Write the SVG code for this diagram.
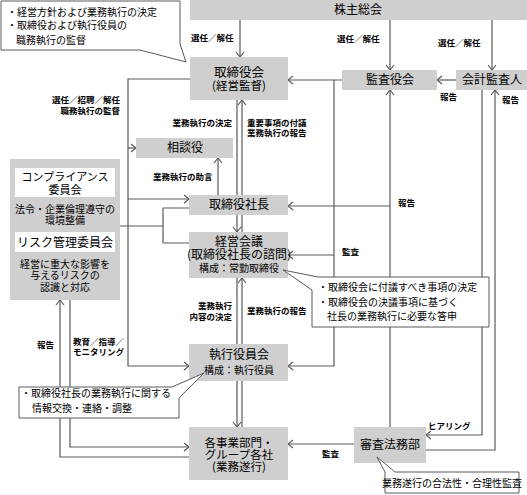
<svg xmlns="http://www.w3.org/2000/svg" width="527" height="495" viewBox="0 0 527 495">
<defs>
<style>
text{font-family:"Noto Sans CJK JP","Noto Sans CJK SC",sans-serif;fill:#000}
.box{fill:#cfcfcf}
.wb{fill:#fff}
.n{font-size:12px;text-anchor:middle}
.s{font-size:10px;text-anchor:middle}
.c{font-size:10px}
.l{font-size:8.5px;font-weight:bold}
.r{text-anchor:end}
.ln{fill:none;stroke:#5a5a5a;stroke-width:1.2}
.co{fill:#fff;stroke:#5a5a5a;stroke-width:1}
</style>
<marker id="a" markerUnits="userSpaceOnUse" markerWidth="10" markerHeight="10" refX="7" refY="5" orient="auto">
<path d="M2,1 L7,5 L2,9" fill="none" stroke="#5a5a5a" stroke-width="1.2"/>
</marker>
</defs>
<g id="connectors">
<path class="ln" d="M240,20 V57" marker-end="url(#a)"/>
<path class="ln" d="M390,20 V70" marker-end="url(#a)"/>
<path class="ln" d="M492,20 V70" marker-end="url(#a)"/>
<path class="ln" d="M456,80 H437" marker-end="url(#a)"/>
<path class="ln" d="M342,80 H288" marker-end="url(#a)"/>
<path class="ln" d="M334,80 V366 H288" marker-end="url(#a)"/>
<path class="ln" d="M334,255 H288" marker-end="url(#a)"/>
<path class="ln" d="M390,427 V90" marker-end="url(#a)"/>
<path class="ln" d="M390,206 H288" marker-end="url(#a)"/>
<path class="ln" d="M482,90 V435 H426" marker-end="url(#a)"/>
<path class="ln" d="M426,450 H495 V90" marker-end="url(#a)"/>
<path class="ln" d="M237,100 V232" marker-end="url(#a)"/>
<path class="ln" d="M237,278 V427" marker-end="url(#a)"/>
<path class="ln" d="M242,427 V278" marker-end="url(#a)"/>
<path class="ln" d="M242,232 V100" marker-end="url(#a)"/>
<path class="ln" d="M190,79 H128 V366 H189" marker-end="url(#a)"/>
<path class="ln" d="M128,148 H136" marker-end="url(#a)"/>
<path class="ln" d="M128,199 H189" marker-end="url(#a)"/>
<path class="ln" d="M218,195 V158" marker-end="url(#a)"/>
<path class="ln" d="M120,226 H163 M163,208 V243 M163,208 H189 M163,243 H189"/>
<path class="ln" d="M189,457 H60 V300" marker-end="url(#a)"/>
<path class="ln" d="M70,300 V447 H189" marker-end="url(#a)"/>
<path class="ln" d="M354,444 H288" marker-end="url(#a)"/>
<g id="edge-labels">
<text class="l" x="191" y="41">選任／解任</text>
<text class="l" x="337" y="42">選任／解任</text>
<text class="l" x="438" y="46">選任／解任</text>
<text class="l" x="440" y="100">報告</text>
<text class="l" x="502" y="103">報告</text>
<text class="l r" x="120" y="103">選任／招聘／解任<tspan x="120" dy="11">職務執行の監督</tspan></text>
<text class="l r" x="232" y="126">業務執行の決定</text>
<text class="l" x="247" y="126">重要事項の付議<tspan x="247" dy="10">業務執行の報告</tspan></text>
<text class="l" x="153" y="180">業務執行の助言</text>
<text class="l" x="398" y="206">報告</text>
<text class="l" x="342" y="255">監査</text>
<text class="l r" x="232" y="309">業務執行<tspan x="232" dy="11">内容の決定</tspan></text>
<text class="l" x="247" y="314">業務執行の報告</text>
<text class="l" x="37" y="348">報告</text>
<text class="l" x="73" y="345">教育／指導／<tspan x="73" dy="10">モニタリング</tspan></text>
<text class="l" x="428" y="429">ヒアリング</text>
<text class="l" x="322" y="457">監査</text>
</g>
</g>
<g id="shareholders">
<rect class="box" x="190" y="0" width="337" height="20"/>
<text class="n" x="358" y="14">株主総会</text>
</g>
<g id="board">
<rect class="box" x="190" y="57" width="98" height="43"/>
<text class="n" x="239" y="77"><tspan style="font-size:12.5px">取締役会</tspan><tspan x="239" dy="12.5" style="font-size:11.5px">(経営監督)</tspan></text>
</g>
<g id="auditors">
<rect class="box" x="342" y="70" width="95" height="20"/>
<text class="n" x="390" y="84">監査役会</text>
</g>
<g id="accounting-auditor">
<rect class="box" x="456" y="70" width="71" height="20"/>
<text class="n" x="492" y="84">会計監査人</text>
</g>
<g id="advisor">
<rect class="box" x="136" y="138" width="97" height="20"/>
<text class="n" x="185" y="152">相談役</text>
</g>
<g id="president">
<rect class="box" x="189" y="195" width="99" height="20"/>
<text class="n" x="239" y="209">取締役社長</text>
</g>
<g id="management-meeting">
<rect class="box" x="189" y="232" width="99" height="46"/>
<text class="n" x="239" y="245.5">経営会議<tspan x="239" dy="13">(取締役社長の諮問)</tspan><tspan x="239" dy="13.5" style="font-size:10px">構成：常勤取締役</tspan></text>
</g>
<g id="executive-committee">
<rect class="box" x="189" y="344" width="99" height="37"/>
<text class="n" x="239" y="359">執行役員会<tspan x="239" dy="14.5" style="font-size:10px">構成：執行役員</tspan></text>
</g>
<g id="divisions">
<rect class="box" x="189" y="427" width="99" height="53"/>
<text x="239" y="446.5" style="font-size:11.5px;text-anchor:middle">各事業部門・<tspan x="239" dy="12.2">グループ各社</tspan><tspan x="239" dy="12.2">(業務遂行)</tspan></text>
</g>
<g id="legal-audit">
<rect class="box" x="354" y="427" width="72" height="36"/>
<text class="n" x="390" y="449">審査法務部</text>
</g>
<g id="committees">
<rect class="box" x="10" y="159" width="110" height="141"/>
<rect class="wb" x="15" y="168" width="100" height="29"/>
<text x="65" y="181" style="font-size:11px;text-anchor:middle">コンプライアンス<tspan x="65" dy="13">委員会</tspan></text>
<text class="s" x="65" y="212.5">法令・企業倫理遵守の<tspan x="65" dy="11">環境整備</tspan></text>
<rect class="wb" x="15" y="232" width="100" height="20"/>
<text class="n" x="65" y="247">リスク管理委員会</text>
<text class="s" x="65" y="267.5">経営に重大な影響を<tspan x="65" dy="11">与えるリスクの</tspan><tspan x="65" dy="12">認識と対応</tspan></text>
</g>
<g id="callout-board">
<polygon class="co" points="1,1 180,1 180,44 186,62 140,50 1,50"/>
<text class="c" x="7" y="15.5">・経営方針および業務執行の決定<tspan x="7" dy="13">・取締役および執行役員の</tspan><tspan x="16" dy="15">職務執行の監督</tspan></text>
</g>
<g id="callout-meeting">
<polygon class="co" points="283,270 318,277 489,277 489,327 312,327 312,290"/>
<text class="c" x="318" y="290.5">・取締役会に付議すべき事項の決定<tspan x="318" dy="15">・取締役会の決議事項に基づく</tspan><tspan x="327" dy="14.5">社長の業務執行に必要な答申</tspan></text>
</g>
<g id="callout-executive">
<polygon class="co" points="19,387 172,387 204,373 179,398 179,418 19,418"/>
<text class="c" x="21" y="396.5">・取締役社長の業務執行に関する<tspan x="32" dy="15">情報交換・連絡・調整</tspan></text>
</g>
<g id="callout-legal">
<polygon class="co" points="377,457 395,472 519,472 519,493 385,493 385,472"/>
<text class="c" x="452" y="486.5" text-anchor="middle">業務遂行の合法性・合理性監査</text>
</g>
</svg>
